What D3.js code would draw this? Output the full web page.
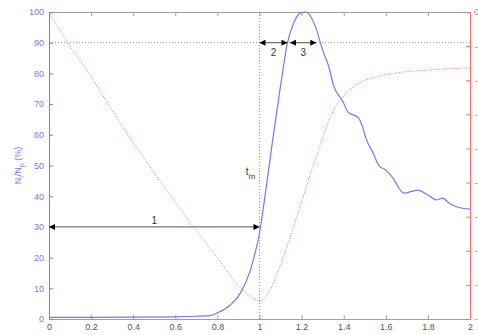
<!DOCTYPE html>
<html lang="en">

<head>
  <meta charset="UTF-8" />
  <title>Ni/Np</title>
  <script src="https://d3js.org/d3.v7.min.js"></script>
  <style>
    body {
      margin: 0;
      background-color: white;
      overflow: hidden;
    }

    text {
      font-family: "Liberation Sans", Arial, sans-serif;
    }
  </style>
</head>

<body>
  <script>
    // blue curve, N_i/N_p in %
    const blueX = [0, 0.4, 0.6, 0.7, 0.77, 0.8, 0.86, 0.91, 0.957, 0.986, 1.0, 1.03, 1.062, 1.1, 1.133, 1.16, 1.195, 1.22, 1.267, 1.3, 1.33, 1.352, 1.395, 1.42, 1.47, 1.49, 1.505, 1.54, 1.567, 1.6, 1.633, 1.686, 1.75, 1.8, 1.84, 1.87, 1.9, 1.94, 2.0];
    const blueY = [0.5, 0.6, 0.7, 0.9, 1.2, 2, 4.5, 8.5, 16, 23.5, 28, 42, 58, 76, 90, 96, 99.7, 100, 95, 87.6, 82, 76, 71, 67.5, 65.5, 62.5, 59, 54, 50, 48.5, 46, 41, 42, 40.4, 38.8, 39.4, 37.8, 36.5, 35.8];

    // red dotted curve, right axis
    const redX = [0, 0.09, 0.186, 0.32, 0.53, 0.662, 0.8, 0.91, 0.967, 1.0, 1.038, 1.076, 1.115, 1.157, 1.195, 1.243, 1.28, 1.3, 1.352, 1.4, 1.45, 1.55, 1.65, 1.8, 2.0];
    const redY = [0, -9.1, -17.6, -30.8, -49.8, -61, -72.1, -80.9, -83.8, -84.7, -82.7, -78.0, -71.5, -63.9, -56.6, -47.2, -40.5, -36.9, -28.7, -24.6, -21.7, -19.1, -17.9, -17.0, -16.4];

    const xTicks = [0, 0.2, 0.4, 0.6, 0.8, 1, 1.2, 1.4, 1.6, 1.8, 2];
    const leftTicks = [0, 10, 20, 30, 40, 50, 60, 70, 80, 90, 100];
    const rightTicks = [0, -10, -20, -30, -40, -50, -60, -70, -80, -90];

    // annotation arrows: x from, x to, y (%), label
    const arrowX0 = [0, 1.0, 1.145];
    const arrowX1 = [1.0, 1.133, 1.27];
    const arrowY = [30, 90, 90];
    const arrowLabels = ['1', '2', '3'];

    const w = 478;
    const h = 335;
    const m = { left: 49, right: 8, top: 12, bottom: 16 };

    const blue = 'rgb(120, 120, 240)';
    const red = 'rgb(255, 110, 110)';
    const gray = 'rgb(160, 160, 160)';

    const svg = d3.select('body')
      .append('svg')
      .attr('width', w)
      .attr('height', h);

    const defs = svg.append('defs');
    defs.append('marker')
      .attr('id', 'head')
      .attr('viewBox', '0 0 10 10')
      .attr('refX', 10)
      .attr('refY', 5)
      .attr('markerWidth', 7)
      .attr('markerHeight', 6)
      .attr('markerUnits', 'userSpaceOnUse')
      .attr('orient', 'auto-start-reverse')
      .append('path')
      .attr('d', 'M0,0L10,5L0,10z')
      .attr('fill', 'black');

    const x = d3.scaleLinear().domain([0, 2]).range([m.left, w - m.right]);
    const y = d3.scaleLinear().domain([0, 100]).range([h - m.bottom, m.top]);
    const yR = d3.scaleLinear().domain([-90, 0]).range([h - m.bottom, m.top]);

    // axes, matlab style ticks pointing in
    const xAxis = d3.axisBottom(x).tickValues(xTicks).tickSize(-4).tickPadding(5)
      .tickFormat(d => d3.format('')(d));
    const xTop = d3.axisTop(x).tickValues(xTicks).tickSize(-4).tickFormat('');
    const yAxis = d3.axisLeft(y).tickValues(leftTicks).tickSize(-4).tickPadding(5);
    const yAxisR = d3.axisRight(yR).tickValues(rightTicks).tickSize(-4).tickPadding(4);

    const gx = svg.append('g')
      .attr('transform', `translate(0,${h - m.bottom})`)
      .call(xAxis);
    const gt = svg.append('g')
      .attr('transform', `translate(0,${m.top})`)
      .call(xTop);
    [gx, gt].forEach(g => {
      g.selectAll('path, line').attr('stroke', gray);
      g.selectAll('text').attr('fill', '#555').attr('font-size', '9px');
    });

    const gy = svg.append('g')
      .attr('transform', `translate(${m.left},0)`)
      .call(yAxis);
    gy.selectAll('path, line').attr('stroke', blue);
    gy.selectAll('text').attr('fill', blue).attr('font-size', '9px');

    const gr = svg.append('g')
      .attr('transform', `translate(${w - m.right},0)`)
      .call(yAxisR);
    gr.selectAll('path, line').attr('stroke', red);
    gr.selectAll('text').attr('fill', red).attr('font-size', '9px');

    // dotted reference lines
    svg.append('line')
      .attr('x1', x(0)).attr('x2', x(2))
      .attr('y1', y(90)).attr('y2', y(90))
      .attr('stroke', '#777')
      .attr('stroke-width', 0.8)
      .attr('stroke-dasharray', '1,2');

    svg.append('line')
      .attr('x1', x(1)).attr('x2', x(1))
      .attr('y1', y(0)).attr('y2', y(100))
      .attr('stroke', '#777')
      .attr('stroke-width', 0.8)
      .attr('stroke-dasharray', '1,2');

    // red dotted line
    const redLine = d3.line()
      .x((d, i) => x(redX[i]))
      .y(d => yR(d))
      .curve(d3.curveMonotoneX);
    svg.append('path')
      .datum(redY)
      .attr('d', redLine)
      .attr('fill', 'none')
      .attr('stroke', red)
      .attr('stroke-width', 1)
      .attr('stroke-dasharray', '1,1.5');

    // blue solid line
    const blueLine = d3.line()
      .x((d, i) => x(blueX[i]))
      .y(d => y(d))
      .curve(d3.curveMonotoneX);
    svg.append('path')
      .datum(blueY)
      .attr('d', blueLine)
      .attr('fill', 'none')
      .attr('stroke', blue)
      .attr('stroke-width', 1.2);

    // arrows
    arrowLabels.forEach((lab, i) => {
      svg.append('line')
        .attr('x1', x(arrowX0[i])).attr('x2', x(arrowX1[i]))
        .attr('y1', y(arrowY[i])).attr('y2', y(arrowY[i]))
        .attr('stroke', '#555')
        .attr('stroke-width', 1)
        .attr('marker-start', 'url(#head)')
        .attr('marker-end', 'url(#head)');
      const below = arrowY[i] > 50;
      svg.append('text')
        .attr('x', x((arrowX0[i] + arrowX1[i]) / 2))
        .attr('y', below ? y(arrowY[i]) + 13 : y(arrowY[i]) - 3)
        .attr('text-anchor', 'middle')
        .attr('font-size', '10px')
        .attr('fill', '#333')
        .text(lab);
    });

    // t_m label
    const tm = svg.append('text')
      .attr('x', x(0.935))
      .attr('y', y(47))
      .attr('font-size', '10px')
      .attr('fill', '#333')
      .text('t');
    tm.append('tspan')
      .attr('dy', 4)
      .attr('font-size', '8px')
      .text('m');

    // y label
    const yl = svg.append('text')
      .attr('transform', `translate(21,${y(50)}) rotate(-90)`)
      .attr('text-anchor', 'middle')
      .attr('font-size', '9px')
      .attr('fill', blue)
      .text('N');
    yl.append('tspan').attr('dy', 3).attr('font-size', '7px').text('i');
    yl.append('tspan').attr('dy', -3).text('/N');
    yl.append('tspan').attr('dy', 3).attr('font-size', '7px').text('p');
    yl.append('tspan').attr('dy', -3).text(' (%)');
  </script>
</body>

</html>
